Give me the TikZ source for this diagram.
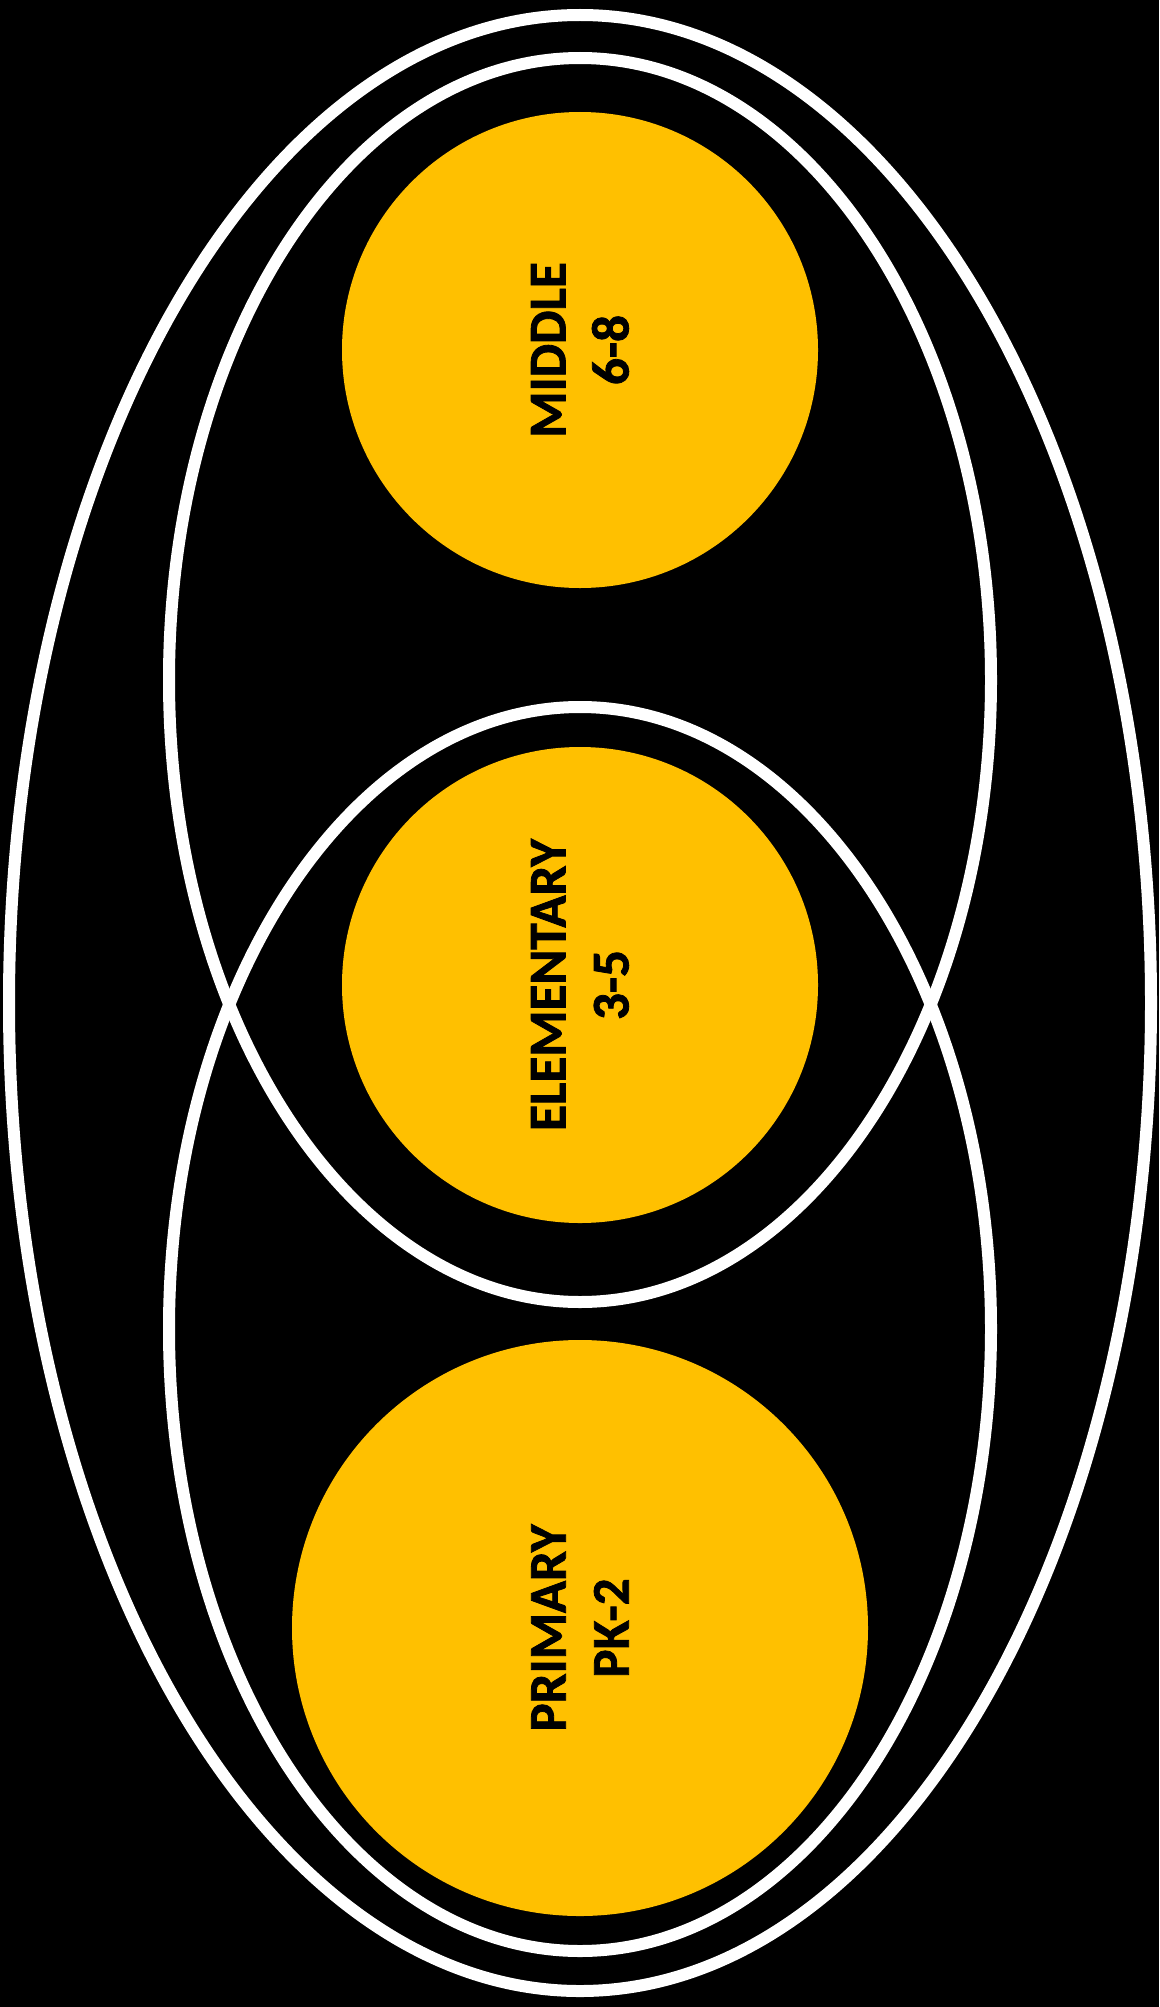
\documentclass[tikz,border=0pt]{standalone}
\usepackage{fontspec}
\setmainfont{Carlito}
\newfontfamily\lblfont{Carlito Bold}[FakeBold=1.5]
\usetikzlibrary{shapes.geometric}
\definecolor{gold}{HTML}{FFC000}
\tikzset{
  ring/.style={ellipse, draw=white, line width=12pt, inner sep=0pt, fill=none},
  disc/.style={circle, fill=gold, inner sep=0pt},
  label/.style={rotate=90, align=center, text=black, font=\lblfont\fontsize{53}{63}\selectfont}
}
\begin{document}
\begin{tikzpicture}[x=1pt,y=-1pt]
  \fill[black] (0,0) rectangle (1159,2007);
  \useasboundingbox (0,0) rectangle (1159,2007);
  % circles
  \node[disc, minimum size=476pt] (middle) at (580,350) {};
  \node[disc, minimum size=476pt] (elem) at (580,985) {};
  \node[disc, minimum size=576pt] (primary) at (580,1628) {};
  % rings
  \node[ring, minimum width=1142pt, minimum height=1976pt] (outer) at (580,1003) {};
  \node[ring, minimum width=822pt, minimum height=1244pt] (upper) at (580,680) {};
  \node[ring, minimum width=822pt, minimum height=1244pt] (lower) at (580,1329) {};
  % labels
  \node[label] (tmiddle) at (middle.center) {MIDDLE\\6-8};
  \node[label] (telem) at (elem.center) {ELEMENTARY\\3-5};
  \node[label] (tprimary) at (primary.center) {PRIMARY\\PK-2};
\end{tikzpicture}
\end{document}
